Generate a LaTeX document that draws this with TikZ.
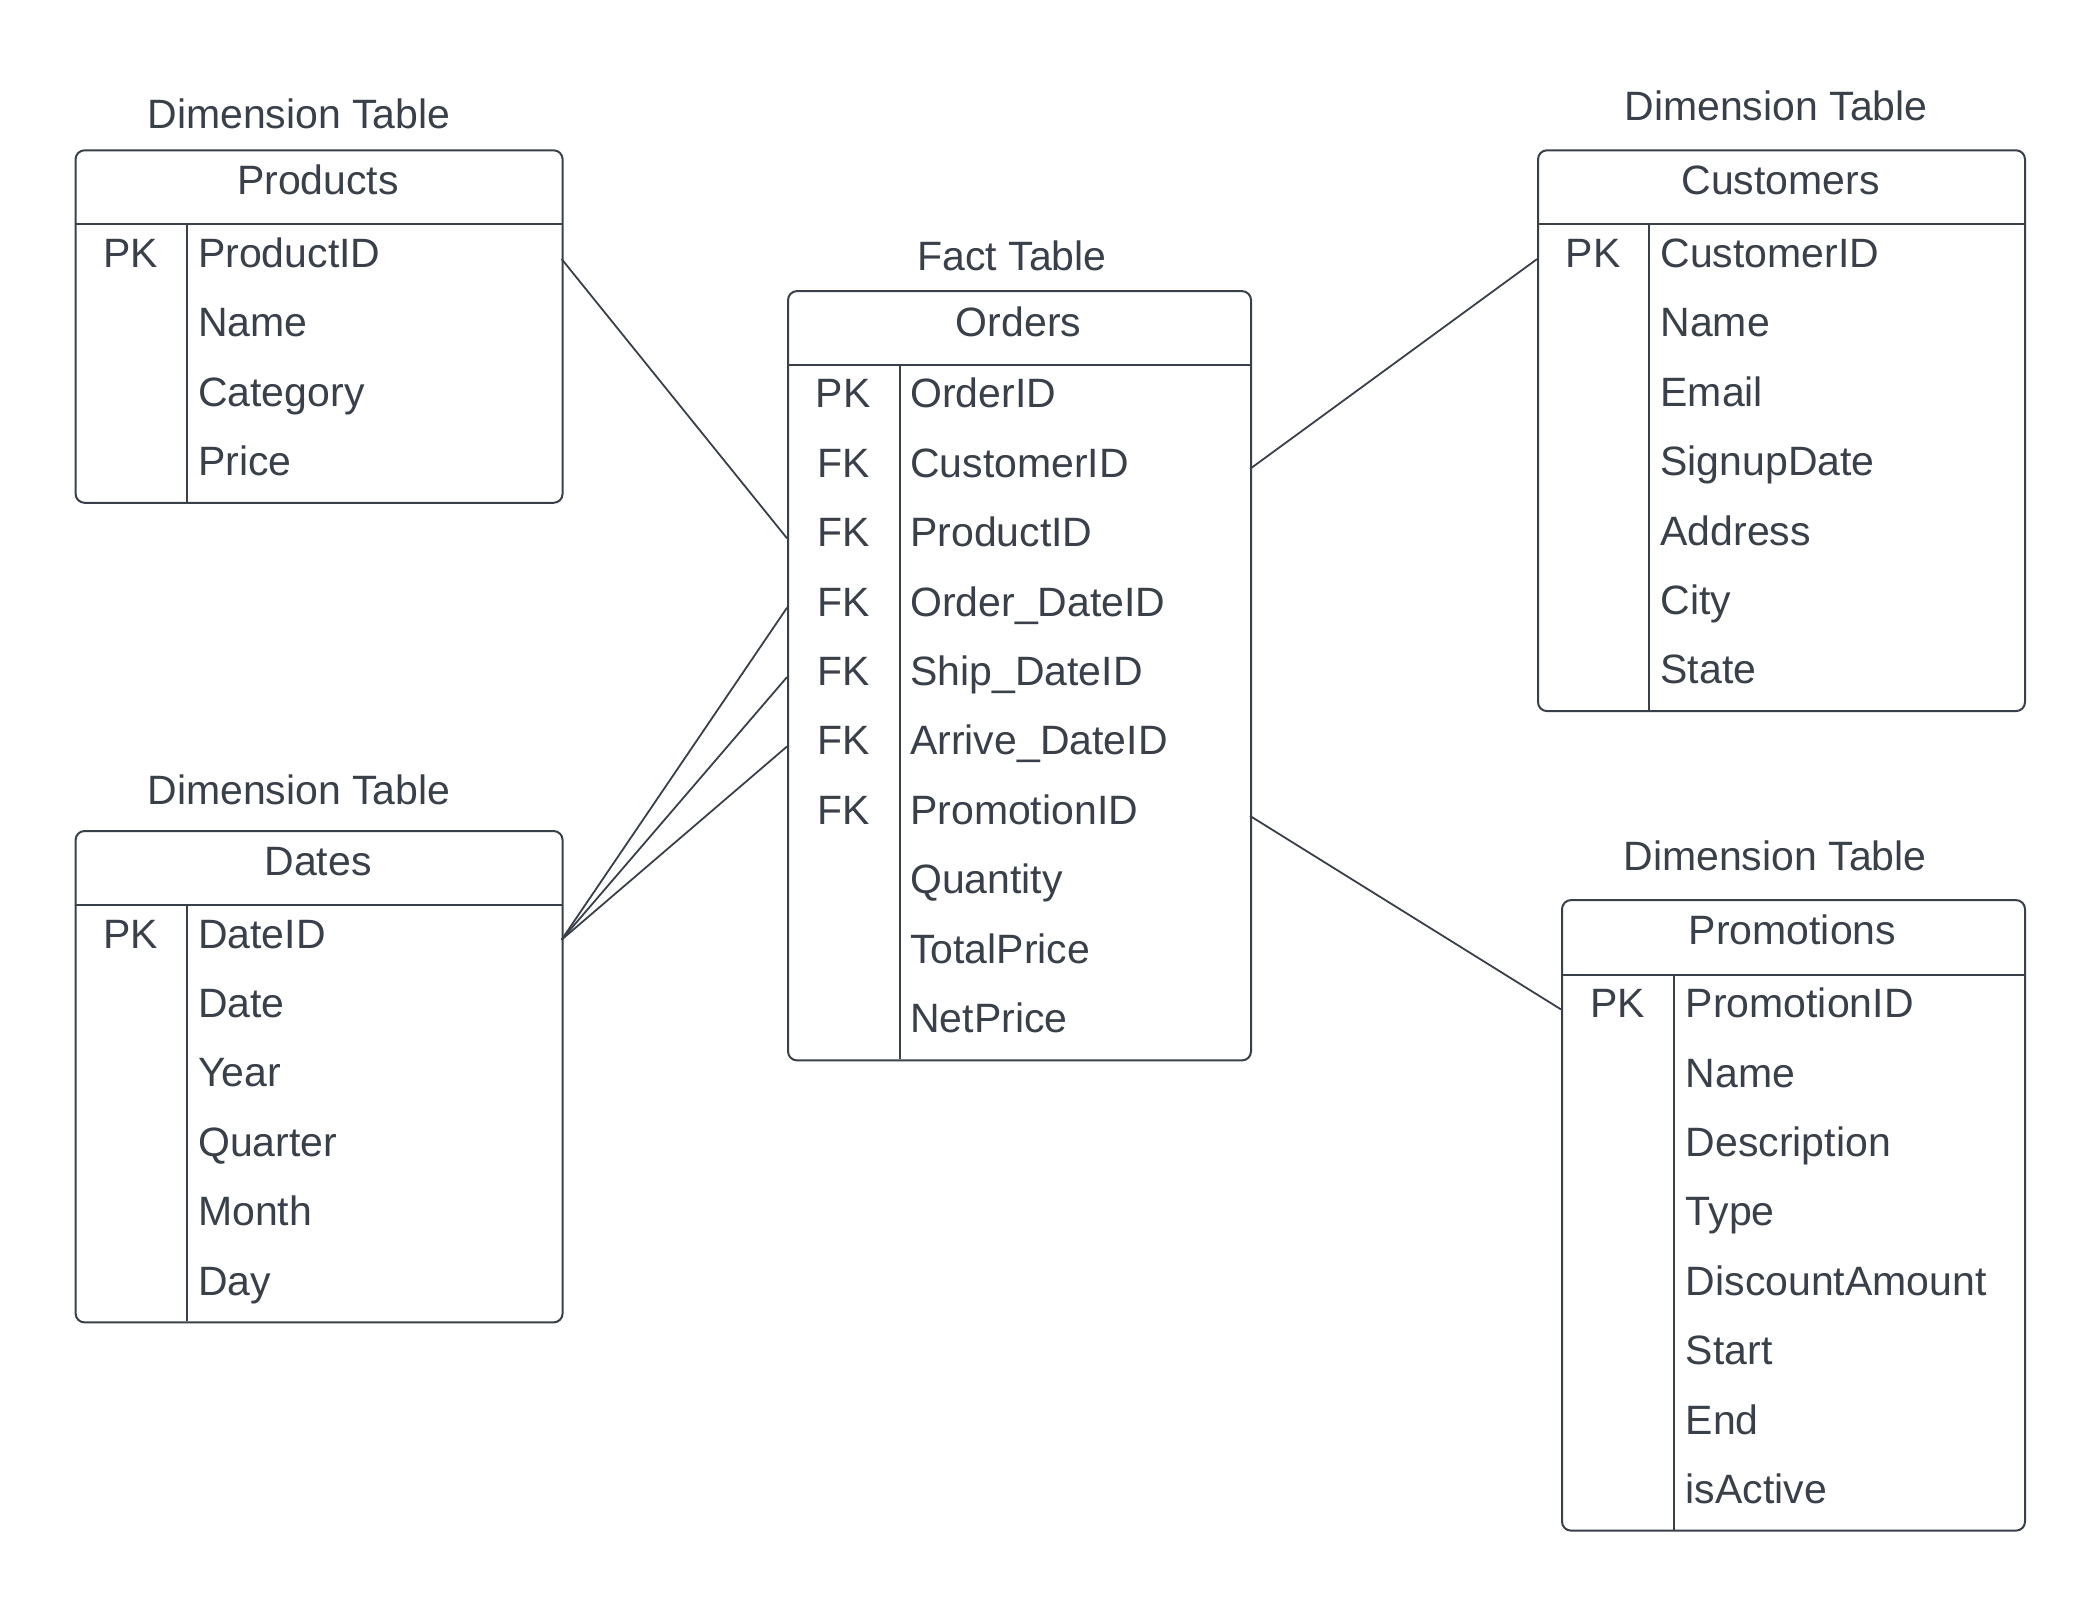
\documentclass[tikz,border=0pt]{standalone}
\usepackage{fontspec}
\setmainfont{Liberation Sans}
\definecolor{ink}{HTML}{394049}

\begin{document}
\begin{tikzpicture}[x=1pt,y=-1pt]
    \tikzstyle{box}=[draw=ink,line width=2pt,rounded corners=9pt,inner sep=0pt,anchor=north west]
    \tikzstyle{txt}=[text=ink,font=\fontsize{41}{48}\selectfont,inner sep=0pt]
    \tikzstyle{row}=[inner sep=0pt,outer sep=0pt,minimum height=69.4,anchor=north west]
    \tikzstyle{rule}=[draw=ink,line width=2pt]
    \tikzstyle{link}=[draw=ink,line width=1.8pt]
    \useasboundingbox (0,0) rectangle (2100,1605);

    % Products
    \node[box,minimum width=487,minimum height=352.5] (prd) at (74.6,149.3) {};
    \node[txt,anchor=base] (prd-title) at (299,128.6) {Dimension Table};
    \node[txt,anchor=base] (prd-head) at (318,194.6) {Products};
    \draw[rule] (74.6,224.3) -- (561.6,224.3);
    \draw[rule] (187,224.3) -- (187,501.8);
    \node[txt,anchor=base] (prd-pk) at (130.8,267.3) {PK};
    \foreach \i/\f in {0/ProductID, 1/Name, 2/Category, 3/Price} {
        \node[row,minimum width=487] (prd-\i) at (74.6,224.3+69.4*\i) {};
        \node[txt,anchor=base west] (prd-f\i) at (198,267.3+69.4*\i) {\f};
    }

    % Dates
    \node[box,minimum width=487,minimum height=491.4] (dat) at (74.6,830) {};
    \node[txt,anchor=base] (dat-title) at (299,804) {Dimension Table};
    \node[txt,anchor=base] (dat-head) at (318,875) {Dates};
    \draw[rule] (74.6,905) -- (561.6,905);
    \draw[rule] (187,905) -- (187,1321.4);
    \node[txt,anchor=base] (dat-pk) at (130.8,948) {PK};
    \foreach \i/\f in {0/DateID, 1/Date, 2/Year, 3/Quarter, 4/Month, 5/Day} {
        \node[row,minimum width=487] (dat-\i) at (74.6,905+69.4*\i) {};
        \node[txt,anchor=base west] (dat-f\i) at (198,948+69.4*\i) {\f};
    }

    % Orders
    \node[box,minimum width=463,minimum height=769.3] (ord) at (787,290.1) {};
    \node[txt,anchor=base] (ord-title) at (1012,270.6) {Fact Table};
    \node[txt,anchor=base] (ord-head) at (1018.5,336) {Orders};
    \draw[rule] (787,364.8) -- (1250,364.8);
    \draw[rule] (899.6,364.8) -- (899.6,1059.4);
    \foreach \i/\k in {0/PK, 1/FK, 2/FK, 3/FK, 4/FK, 5/FK, 6/FK}
        \node[txt,anchor=base] (ord-k\i) at (843.3,407.8+69.4*\i) {\k};
    \foreach \i/\f in {0/OrderID, 1/CustomerID, 2/ProductID, 3/Order\_DateID, 4/Ship\_DateID,
                       5/Arrive\_DateID, 6/PromotionID, 7/Quantity, 8/TotalPrice, 9/NetPrice} {
        \node[row,minimum width=463] (ord-\i) at (787,364.8+69.4*\i) {};
        \node[txt,anchor=base west] (ord-f\i) at (910,407.8+69.4*\i) {\f};
    }

    % Customers
    \node[box,minimum width=487,minimum height=560.8] (cus) at (1537,149.3) {};
    \node[txt,anchor=base] (cus-title) at (1776,120.2) {Dimension Table};
    \node[txt,anchor=base] (cus-head) at (1780.5,194.9) {Customers};
    \draw[rule] (1537,224.4) -- (2024,224.4);
    \draw[rule] (1649,224.4) -- (1649,710.1);
    \node[txt,anchor=base] (cus-pk) at (1593,267.4) {PK};
    \foreach \i/\f in {0/CustomerID, 1/Name, 2/Email, 3/SignupDate, 4/Address, 5/City, 6/State} {
        \node[row,minimum width=487] (cus-\i) at (1537,224.4+69.4*\i) {};
        \node[txt,anchor=base west] (cus-f\i) at (1660.3,267.4+69.4*\i) {\f};
    }

    % Promotions
    \node[box,minimum width=463,minimum height=630.5] (pro) at (1561,899.1) {};
    \node[txt,anchor=base] (pro-title) at (1775,870) {Dimension Table};
    \node[txt,anchor=base] (pro-head) at (1792.5,944.2) {Promotions};
    \draw[rule] (1561,974.7) -- (2024,974.7);
    \draw[rule] (1674,974.7) -- (1674,1529.6);
    \node[txt,anchor=base] (pro-pk) at (1617.6,1017.7) {PK};
    \foreach \i/\f in {0/PromotionID, 1/Name, 2/Description, 3/Type, 4/DiscountAmount,
                       5/Start, 6/End, 7/isActive} {
        \node[row,minimum width=463] (pro-\i) at (1561,974.7+69.4*\i) {};
        \node[txt,anchor=base west] (pro-f\i) at (1685.6,1017.7+69.4*\i) {\f};
    }

    % links
    \draw[link] (prd-0.east) -- (ord-2.west);
    \foreach \i in {3,4,5}
        \draw[link] (dat-0.east) -- (ord-\i.west);
    \draw[link] (ord-1.east) -- (cus-0.west);
    \draw[link] (ord-6.east) -- (pro-0.west);
\end{tikzpicture}
\end{document}
